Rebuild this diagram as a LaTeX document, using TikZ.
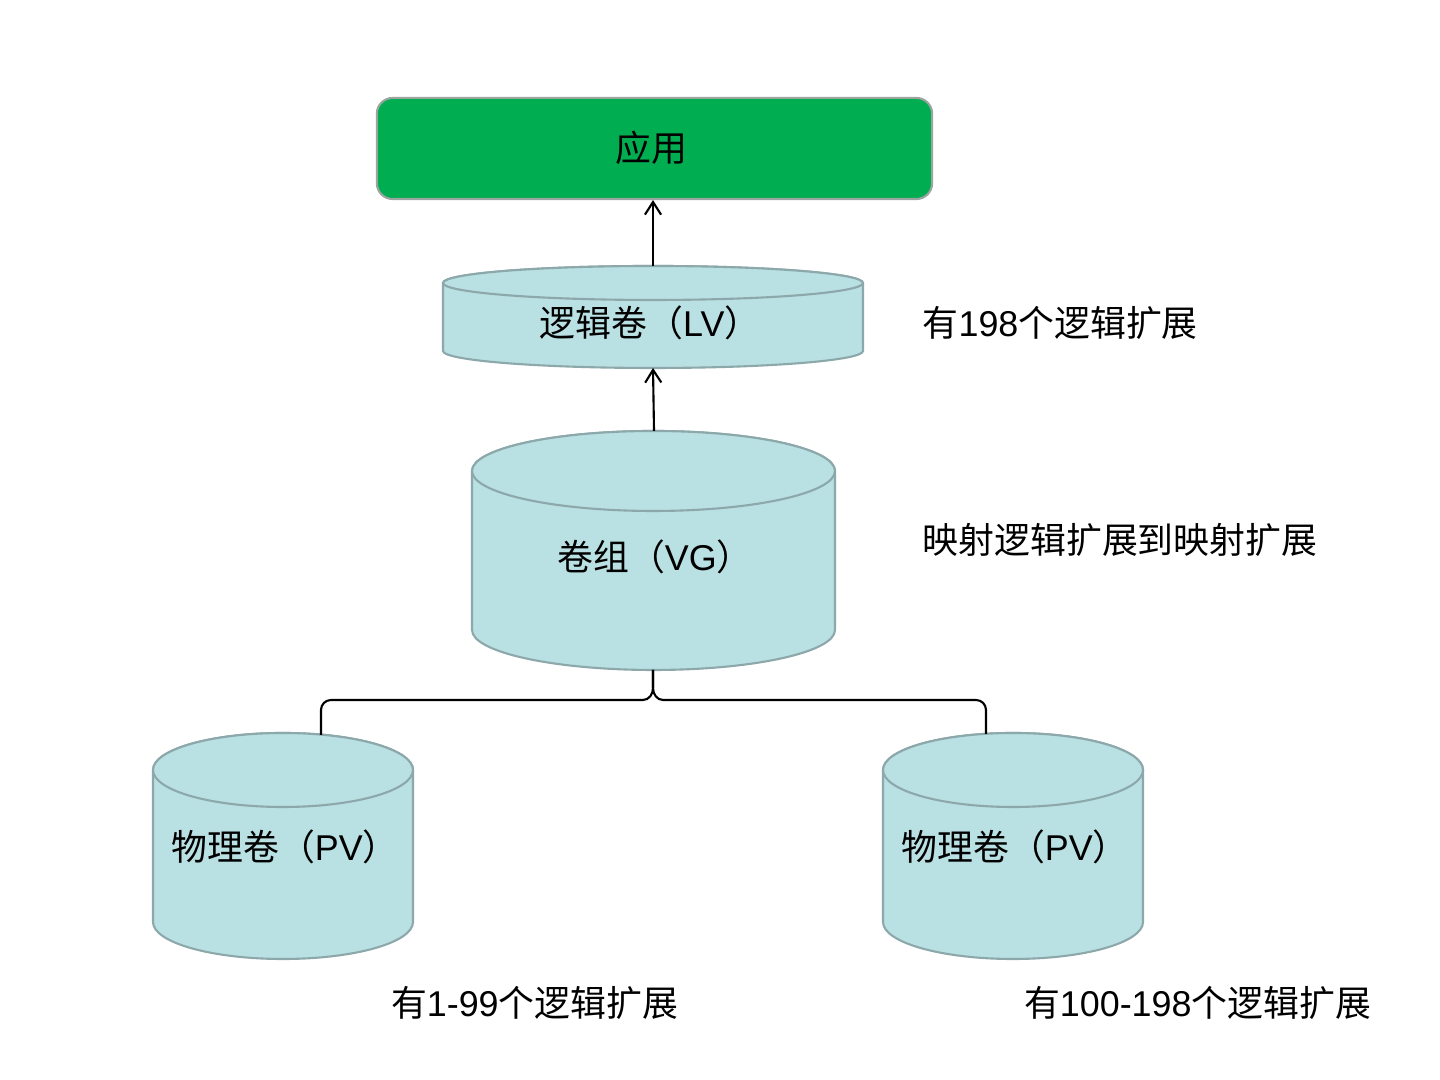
\documentclass[tikz,border=0pt]{standalone}
\usepackage{fontspec}
\setmainfont{Liberation Sans}
\newfontfamily\cjk{Noto Sans CJK SC}
\usetikzlibrary{arrows.meta}
\definecolor{appgreen}{HTML}{00AD50}
\definecolor{cylfill}{HTML}{B9E0E3}
\definecolor{cylline}{HTML}{8CA8AB}
\definecolor{appline}{HTML}{9AA5A0}
\newcommand{\zh}[1]{{\cjk #1}}
\tikzset{
  lbl/.style={font=\fontsize{10.2}{12}\selectfont, inner sep=0pt},
  conn/.style={draw=black, line width=0.6pt},
  arr/.style={conn, -{Straight Barb[length=3.6pt,width=4.6pt]}},
  cylshape/.style={fill=cylfill, draw=cylline, line width=0.6pt},
}
% \mycyl{cx}{rx}{ry}{Ytopcenter}{Ybotcenter}
\newcommand{\mycyl}[5]{%
  \path[cylshape] (#1-#2,#4) -- (#1-#2,#5) arc[start angle=180,end angle=360,x radius=#2,y radius=#3] -- (#1+#2,#4) arc[start angle=0,end angle=180,x radius=#2,y radius=#3] -- cycle;
  \path[cylshape] (#1,#4) ellipse[x radius=#2,y radius=#3];
}
\begin{document}
\begin{tikzpicture}[x=0.01cm,y=0.01cm]
\useasboundingbox (0,0) rectangle (1440,1080);
% App box
\node[draw=appline, fill=appgreen, line width=0.6pt, rounded corners=4.5pt, minimum width=5.55cm, minimum height=1.01cm, inner sep=0pt] (app) at (654.5,931.5) {};
\node[lbl] (apptext) at (651,932) {\zh{应用}};
% LV
\mycyl{653}{210}{17}{797}{729}
\coordinate (lvtop) at (653,814);
\coordinate (lvbot) at (653,712);
\node[lbl] (lv) at (650,757) {\zh{逻辑卷（}LV\zh{）}};
% VG
\mycyl{653.5}{181.5}{40}{609}{450}
\coordinate (vgtop) at (654,649);
\coordinate (vgbot) at (653,410);
\node[lbl] (vg) at (655,523) {\zh{卷组（}VG\zh{）}};
% PV left
\mycyl{283}{130}{37}{310}{158}
\coordinate (pvltop) at (321,345);
\node[lbl] (pvl) at (285,233) {\zh{物理卷（}PV\zh{）}};
% PV right
\mycyl{1013}{130}{37}{310}{158}
\coordinate (pvrtop) at (986,346);
\node[lbl] (pvr) at (1015,233) {\zh{物理卷（}PV\zh{）}};
% arrows
\draw[arr] (lvtop) -- (lvtop |- app.south);
\draw[arr] (vgtop) -- (lvbot);
% brace
\draw[conn] (vgbot) -- (653,392) to[out=-90,in=0] (643,380) -- (331,380) to[out=180,in=90] (321,370) -- (pvltop);
\draw[conn] (vgbot) -- (653,392) to[out=-90,in=180] (663,380) -- (976,380) to[out=0,in=90] (986,370) -- (pvrtop);
% labels
\node[lbl, anchor=west] (t1) at (922,757) {\zh{有}198\zh{个逻辑扩展}};
\node[lbl, anchor=west] (t2) at (922,540) {\zh{映射逻辑扩展到映射扩展}};
\node[lbl] (t3) at (534.5,77) {\zh{有}1-99\zh{个逻辑扩展}};
\node[lbl] (t4) at (1197.5,77) {\zh{有}100-198\zh{个逻辑扩展}};
\end{tikzpicture}
\end{document}
